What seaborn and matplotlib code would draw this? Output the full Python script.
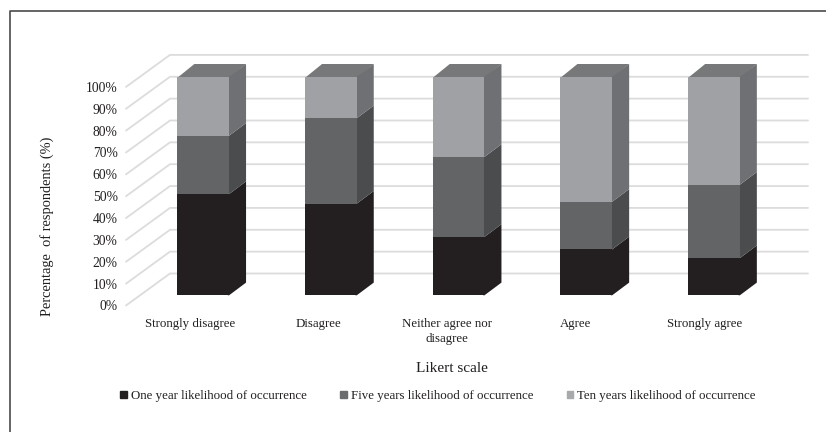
import numpy as np
import pandas as pd
import matplotlib
matplotlib.use("Agg")
import matplotlib.pyplot as plt
import seaborn as sns
from matplotlib.lines import Line2D
from matplotlib.patches import Patch
from matplotlib.transforms import ScaledTranslation

sns.set_theme(style="white")
plt.rcParams['font.family'] = ['Liberation Serif', 'DejaVu Serif']

categories = ["Strongly disagree", "Disagree", "Neither agree nor\ndisagree", "Agree", "Strongly agree"]
one_year = [46.3, 41.9, 26.7, 21.0, 17.0]
five_years = [26.7, 39.1, 36.6, 21.8, 33.6]
ten_years = [27.0, 19.0, 36.7, 57.2, 49.4]
series_names = ["One year likelihood of occurrence", "Five years likelihood of occurrence", "Ten years likelihood of occurrence"]
yticks = np.arange(0, 101, 10)

front_colors = ["#231f20", "#636466", "#a0a1a4"]
side_colors = ["#231f20", "#4b4c4e", "#6f7073"]
top_color = "#77787a"
grid_color = "#dcdcdc"
text_color = "#231f20"

W, H = 826, 432
fig = plt.figure(figsize=(W / 100, H / 100), dpi=100)

# pixel layout of the axes, x from first bar centre, y from the bar base
px_per_cat = 127.7
px_per_pct = 2.186
x0_px, y0_px = 203.2, 295.3
left, right, top, bottom = 126, 808, 54, 306
ax = fig.add_axes([left / W, 1 - bottom / H, (right - left) / W, (bottom - top) / H])
xmin, xmax = (left - x0_px) / px_per_cat, (right - x0_px) / px_per_cat
ymin, ymax = (y0_px - bottom) / px_per_pct, (y0_px - top) / px_per_pct

# depth offsets of the fake 3d, in data units
wall_dx, wall_dy = 44 / px_per_cat, 32 / px_per_pct
bar_dx, bar_dy = 17 / px_per_cat, 12.7 / px_per_pct
wall_base = (y0_px - 305.5) / px_per_pct
bar_width = 51.7 / px_per_cat

for t in yticks:
    y = wall_base + t
    ax.plot([xmin, xmin + wall_dx, xmax], [y, y + wall_dy, y + wall_dy], color=grid_color, lw=1.3, zorder=1, clip_on=False)

df = pd.DataFrame({"category": categories, "one": one_year, "five": five_years, "ten": ten_years})
df["c1"] = df["one"]
df["c2"] = df["one"] + df["five"]
df["c3"] = df["c2"] + df["ten"]

# tallest first so the shorter stacks sit on top of it
for col, color in zip(["c3", "c2", "c1"], front_colors[::-1]):
    sns.barplot(data=df, x="category", y=col, color=color, saturation=1, width=bar_width, ax=ax, zorder=5, linewidth=0)
ax.set_xlim(xmin, xmax)
ax.set_ylim(ymin, ymax)

overlap = 0.01  # side face starts under the front face, no seam
for i in range(len(categories)):
    x_r = i + bar_width / 2
    x_l = i - bar_width / 2
    low = 0
    for col, color in zip(["c1", "c2", "c3"], side_colors):
        high = df[col][i]
        ax.fill([x_r - overlap, x_r, x_r + bar_dx, x_r + bar_dx, x_r, x_r - overlap],
                [low, low, low + bar_dy, high + bar_dy, high, high], color=color, lw=0, zorder=4)
        low = high
    ax.fill([x_l, x_r, x_r + bar_dx, x_l + bar_dx], [low - 0.5, low - 0.5, low + bar_dy, low + bar_dy], color=top_color, lw=0, zorder=3)

for s in ax.spines.values():
    s.set_visible(False)
ax.set_xlabel("")
ax.set_ylabel("")
ax.set_yticks([wall_base + t for t in yticks])
ax.set_yticklabels([f"{t}%" for t in yticks], fontsize=9.8, color=text_color)
ax.tick_params(axis="y", length=0, pad=6)
ax.set_xticks(range(len(categories)))
ax.set_xticklabels(categories, fontsize=9.3, color=text_color, linespacing=1.27)
ax.tick_params(axis="x", length=0, pad=9)
# labels sit a little left of the bars in the original
for i, lab in enumerate(ax.get_xticklabels()):
    lab.set_transform(lab.get_transform() + ScaledTranslation((-13 + 0.8 * i) / 100, 0, fig.dpi_scale_trans))

fig.text(47 / W, 1 - 226 / H, "Percentage  of respondents (%)", rotation=90, ha="center", va="center", fontsize=10.4, color=text_color)
fig.text(452 / W, 1 - 368 / H, "Likert scale", ha="center", va="center", fontsize=11, color=text_color)

handles = [Patch(color=c, label=n) for c, n in zip(["#231f20", "#6b6c6e", "#a8a9ab"], series_names)]
fig.legend(handles=handles, loc="center", bbox_to_anchor=(438 / W, 1 - 396 / H), ncol=3, frameon=False, fontsize=9.3,
           labelcolor=text_color, handlelength=0.5, handleheight=0.5, handletextpad=0.3, columnspacing=2.6,
           borderpad=0, borderaxespad=0)

# frame of the scanned figure: only top and left edges are visible
fig.add_artist(Line2D([9.5 / W, 9.5 / W, 1], [0, 1 - 11 / H, 1 - 11 / H], color="#4a4a4a", lw=1.2))
fig.savefig("out.png", dpi=100)
